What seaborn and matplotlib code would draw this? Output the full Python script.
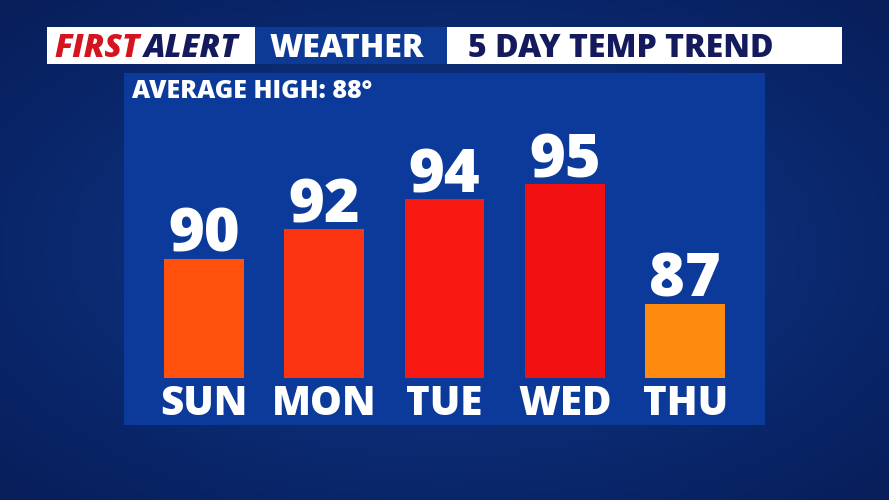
import numpy as np
import pandas as pd
import matplotlib.pyplot as plt
import matplotlib.transforms as mtransforms
from matplotlib.patches import Rectangle
import seaborn as sns

# data
days = ["SUN", "MON", "TUE", "WED", "THU"]
highs = [90, 92, 94, 95, 87]
bar_colors = ["#ff500c", "#fc3412", "#f81a12", "#f21010", "#ff8a10"]
average_high = 88
y_floor = 82

df = pd.DataFrame({"day": days, "high": highs})

sns.set_theme(style="white")
plt.rcParams["font.family"] = ["Open Sans", "DejaVu Sans"]

W, H = 889, 500
fig = plt.figure(figsize=(W / 100, H / 100), dpi=100)
fig.patch.set_facecolor("#0b2a78")

def fx(px):
    return px / W

def fy(py):
    return 1 - py / H

def box(x0, y0, x1, y1, color):
    fig.patches.append(Rectangle((fx(x0), fy(y1)), fx(x1 - x0), (y1 - y0) / H,
                                 transform=fig.transFigure, facecolor=color,
                                 edgecolor="none", zorder=-2))

# background: soft vignette
bg = fig.add_axes([0, 0, 1, 1], zorder=-5)
xx, yy = np.meshgrid(np.linspace(-1, 1, 200), np.linspace(-1, 1, 120))
r = np.sqrt(xx ** 2 + yy ** 2)
c0 = np.array([0x11, 0x3a, 0x90]) / 255
c1 = np.array([0x07, 0x1e, 0x5a]) / 255
t = np.clip(r / 1.4, 0, 1)[..., None]
bg.imshow(c0 * (1 - t) + c1 * t, aspect="auto", extent=[0, 1, 0, 1])
bg.set_axis_off()

# header boxes
box(47, 27, 255, 64, "white")
box(255, 27, 447, 64, "#0c3a94")
box(447, 27, 842, 64, "white")
hdr = dict(fontsize=23, fontweight=800, va="baseline")
fig.text(fx(54), fy(57), "FIRST", color="#d4141e", fontstyle="italic", ha="left", **hdr)
fig.text(fx(144), fy(57), "ALERT", color="#141a5c", fontstyle="italic", ha="left", **hdr)
fig.text(fx(347), fy(57), "WEATHER", color="white", ha="center", **hdr)
fig.text(fx(468), fy(57), "5 DAY TEMP TREND", color="#141a5c", ha="left", **hdr)

# panel
box(124, 73, 765, 425, "#0b3a9b")
fig.text(fx(132), fy(98), f"AVERAGE HIGH: {average_high}°", color="white", fontsize=18,
         fontweight=800, va="baseline", ha="left")

# bars
px_per_deg = 14.9
ax_bottom, ax_top = 378, 80
ax = fig.add_axes([fx(143.5), fy(ax_bottom), fx(602), (ax_bottom - ax_top) / H], zorder=2)
ax.patch.set_alpha(0)
sns.barplot(data=df, x="day", y="high", hue="day", palette=bar_colors, legend=False,
            width=0.664, ax=ax, saturation=1, linewidth=0)
ax.set_xlim(-0.5, 4.5)
ax.set_ylim(y_floor, y_floor + (ax_bottom - ax_top) / px_per_deg)
ax.set_axis_off()

for i, v in enumerate(highs):
    ax.annotate(str(v), xy=(i, v), xytext=(0, 5), textcoords="offset points",
                ha="center", va="baseline", color="white", fontsize=44, fontweight=800)

trans = mtransforms.blended_transform_factory(ax.transData, fig.transFigure)
for i, d in enumerate(days):
    ax.text(i, fy(415), d, transform=trans, ha="center", va="baseline", color="white",
            fontsize=29, fontweight=800)

fig.savefig("out.png", dpi=100)
